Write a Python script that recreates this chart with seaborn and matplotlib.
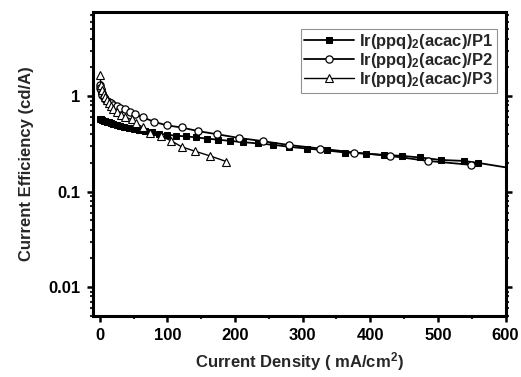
import numpy as np
import pandas as pd
import matplotlib
matplotlib.use("Agg")
import matplotlib.pyplot as plt
import matplotlib.ticker as mticker
import seaborn as sns

# ---- data ----
p1_x = [0, 2, 4, 6, 8, 10, 13, 16, 20, 25, 30, 36, 43, 50, 58, 67, 77, 88, 100, 113,
        127, 142, 158, 175, 193, 212, 234, 256, 280, 306, 336, 363, 394, 420, 447, 474,
        504, 538, 560, 600]
p1_y = [0.58, 0.57, 0.56, 0.55, 0.545, 0.54, 0.53, 0.52, 0.51, 0.50, 0.49, 0.475, 0.465, 0.455,
        0.445, 0.43, 0.42, 0.405, 0.395, 0.385, 0.38, 0.37, 0.36, 0.35, 0.34, 0.33, 0.32,
        0.31, 0.295, 0.283, 0.27, 0.257, 0.25, 0.243, 0.237, 0.228, 0.215, 0.21, 0.2, 0.18]

p2_x = [0, 1, 2, 3, 4, 6, 8, 10, 13, 16, 20, 25, 30, 37, 44, 52, 64, 80, 99, 121, 146,
        173, 206, 241, 280, 326, 376, 429, 485, 549]
p2_y = [1.3, 1.22, 1.15, 1.08, 1.02, 0.97, 0.93, 0.9, 0.87, 0.84, 0.81, 0.78, 0.76, 0.73,
        0.69, 0.645, 0.6, 0.54, 0.495, 0.47, 0.43, 0.40, 0.365, 0.338, 0.308, 0.283,
        0.257, 0.237, 0.21, 0.191]

p3_x = [0, 2, 4, 6, 8, 10, 13, 16, 20, 25, 31, 38, 47, 54, 64, 74, 91, 106, 121, 141,
        163, 187]
p3_y = [1.68, 1.3, 1.15, 1.05, 0.97, 0.91, 0.85, 0.79, 0.73, 0.68, 0.63, 0.6, 0.57, 0.52,
        0.47, 0.416, 0.38, 0.34, 0.295, 0.265, 0.237, 0.207]

labels = [r"Ir(ppq)$_\mathbf{2}$(acac)/P1",
          r"Ir(ppq)$_\mathbf{2}$(acac)/P2",
          r"Ir(ppq)$_\mathbf{2}$(acac)/P3"]
y_ticks = [0.01, 0.1, 1]
y_tick_labels = ["0.01", "0.1", "1"]
x_ticks = [0, 100, 200, 300, 400, 500, 600]

sns.set_theme(style="white")
plt.rcParams["font.family"] = ["Liberation Sans", "DejaVu Sans"]
plt.rcParams["font.weight"] = "bold"
plt.rcParams["mathtext.fontset"] = "custom"
plt.rcParams["mathtext.rm"] = "Liberation Sans:bold"
plt.rcParams["mathtext.bf"] = "Liberation Sans:bold"
plt.rcParams["mathtext.it"] = "Liberation Sans:bold"

fig = plt.figure(figsize=(5.21, 3.77), dpi=100)
ax = fig.add_axes([93 / 521, 1 - 316 / 377, (505.5 - 93) / 521, (316 - 12) / 377])

d1 = pd.DataFrame({"x": p1_x, "y": p1_y})
d2 = pd.DataFrame({"x": p2_x, "y": p2_y})
d3 = pd.DataFrame({"x": p3_x, "y": p3_y})

sns.lineplot(data=d1, x="x", y="y", ax=ax, color="black", lw=1.3, marker="s",
             markersize=4.5, markerfacecolor="black", markeredgecolor="black",
             markevery=list(range(len(p1_x) - 1)), label=labels[0], sort=False)
sns.lineplot(data=d2, x="x", y="y", ax=ax, color="black", lw=1.3, marker="o",
             markersize=5.2, markerfacecolor="white", markeredgecolor="black",
             markeredgewidth=0.9, label=labels[1], sort=False)
sns.lineplot(data=d3, x="x", y="y", ax=ax, color="black", lw=1.0, marker="^",
             markersize=5.2, markerfacecolor="white", markeredgecolor="black",
             markeredgewidth=0.8, label=labels[2], sort=False)

ax.set_yscale("log")
ax.set_xlim(-10, 600)
ax.set_ylim(0.005, 7.6)
ax.yaxis.set_major_locator(mticker.FixedLocator(y_ticks))
ax.yaxis.set_major_formatter(mticker.FixedFormatter(y_tick_labels))
ax.yaxis.set_minor_locator(mticker.LogLocator(base=10, subs=np.arange(2, 10)))
ax.yaxis.set_minor_formatter(mticker.NullFormatter())
ax.xaxis.set_major_locator(mticker.FixedLocator(x_ticks))
ax.xaxis.set_minor_locator(mticker.MultipleLocator(50))

for s in ax.spines.values():
    s.set_visible(True)
    s.set_color("black")
    s.set_linewidth(2.2)

ax.tick_params(axis="both", which="major", direction="out", length=4, width=1.8,
               labelsize=12, colors="black", bottom=True, left=True, pad=5)
ax.tick_params(axis="both", which="minor", direction="out", length=2.5, width=1.5,
               bottom=True, left=True)
ax.tick_params(axis="y", which="both", right=True, labelright=False)
for lab in ax.get_xticklabels() + ax.get_yticklabels():
    lab.set_fontweight("bold")

ax.set_xlabel(r"Current Density ( mA/cm$^\mathbf{2}$)", fontsize=12, fontweight="bold",
              labelpad=5)
ax.set_ylabel("Current Efficiency (cd/A)", fontsize=12, fontweight="bold", labelpad=10)

leg = ax.legend(loc="upper right", bbox_to_anchor=((497 - 93) / 412.5, (316 - 29) / 304),
                borderaxespad=0, frameon=True, fancybox=False, fontsize=12,
                handlelength=3.0, handletextpad=0.3, borderpad=0.2, labelspacing=0.0)
leg.get_frame().set_edgecolor("#777777")
leg.get_frame().set_linewidth(0.8)
for t in leg.get_texts():
    t.set_fontweight("bold")

fig.savefig("out.png", dpi=100)
